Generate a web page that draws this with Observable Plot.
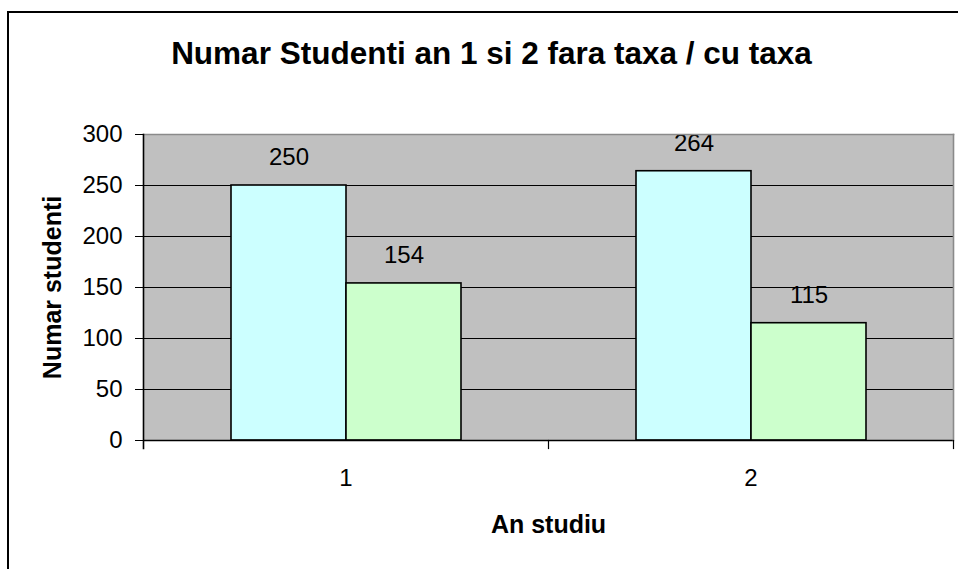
<!DOCTYPE html>
<html>
<head>
<meta charset="utf-8">
<script src="https://cdn.jsdelivr.net/npm/d3@7"></script>
<script src="https://cdn.jsdelivr.net/npm/@observablehq/plot@0.6"></script>
<style>
  html, body { margin: 0; padding: 0; background: #fff; }
  #wrap { position: relative; width: 958px; height: 569px; overflow: hidden; font-family: "Liberation Sans", Arial, sans-serif; }
  #border { position: absolute; left: 7px; top: 11px; width: 1000px; height: 1000px; border-left: 2px solid #000; border-top: 2px solid #000; pointer-events: none; }
</style>
</head>
<body>
<div id="wrap"><div id="chart"></div><div id="border"></div></div>
<script>
const titleText = "Numar Studenti an 1 si 2 fara taxa / cu taxa";
const yLabel = "Numar studenti";
const xLabel = "An studiu";
const years = ["1", "2"];
const series = ["fara taxa", "cu taxa"];
const faraTaxa = [250, 264];
const cuTaxa = [154, 115];
const yTicks = [0, 50, 100, 150, 200, 250, 300];
const gridTicks = [50, 100, 150, 200, 250];
const colors = ["#CCFFFF", "#CCFFCC"];

const data = years.flatMap((yr, i) => [
  {year: yr, serie: series[0], value: faraTaxa[i]},
  {year: yr, serie: series[1], value: cuTaxa[i]}
]);

const chart = Plot.plot({
  width: 958,
  height: 569,
  marginLeft: 143,
  marginRight: 5,
  marginTop: 134,
  marginBottom: 129,
  style: {fontFamily: "Liberation Sans, Arial, sans-serif", background: "transparent", color: "black"},
  fx: {domain: years, paddingInner: 0, paddingOuter: 0, axis: null},
  x: {domain: series, paddingInner: 0, paddingOuter: 0.753, axis: null},
  y: {domain: [0, 300], axis: null},
  color: {domain: series, range: colors},
  marks: [
    Plot.frame({facet: "super", fill: "#C0C0C0", stroke: "none"}),
    Plot.gridY(gridTicks, {stroke: "black", strokeOpacity: 1, strokeWidth: 1}),
    Plot.barY(data, {fx: "year", x: "serie", y: "value", fill: "serie", stroke: "black", strokeWidth: 1.6}),
    Plot.text(data, {fx: "year", x: "serie", y: "value", text: d => String(d.value), dy: -28, fontSize: 24, fill: "black"}),
    Plot.ruleY([0], {stroke: "black", strokeWidth: 1.6}),
    Plot.frame({facet: "super", anchor: "top", stroke: "#8a8a8a", strokeWidth: 1.6}),
    Plot.frame({facet: "super", anchor: "right", stroke: "#8a8a8a", strokeWidth: 1.6}),
    Plot.frame({facet: "super", anchor: "left", stroke: "black", strokeWidth: 1.6, insetBottom: -8}),
    Plot.frame({anchor: "right", stroke: "black", strokeWidth: 1.2, insetTop: 306, insetBottom: -8}),
    Plot.axisY(yTicks, {tickSize: 8, tickPadding: 13, fontSize: 24, label: null, stroke: "black", fill: "black"}),
    Plot.axisFx({anchor: "bottom", tickSize: 0, tickPadding: 28, fontSize: 24, label: null, fill: "black"}),
    Plot.text([titleText], {facet: "super", frameAnchor: "top", textAnchor: "middle", dx: -57, dy: -81, lineAnchor: "middle", fontSize: 31.5, fontWeight: "bold", fill: "black"}),
    Plot.text([xLabel], {facet: "super", frameAnchor: "bottom", textAnchor: "middle", dy: 84, lineAnchor: "middle", fontSize: 25, fontWeight: "bold", fill: "black"}),
    Plot.text([yLabel], {facet: "super", frameAnchor: "left", textAnchor: "middle", dx: -90.5, rotate: -90, lineAnchor: "middle", fontSize: 25, fontWeight: "bold", fill: "black"})
  ]
});
document.getElementById("chart").appendChild(chart);
</script>
</body>
</html>
